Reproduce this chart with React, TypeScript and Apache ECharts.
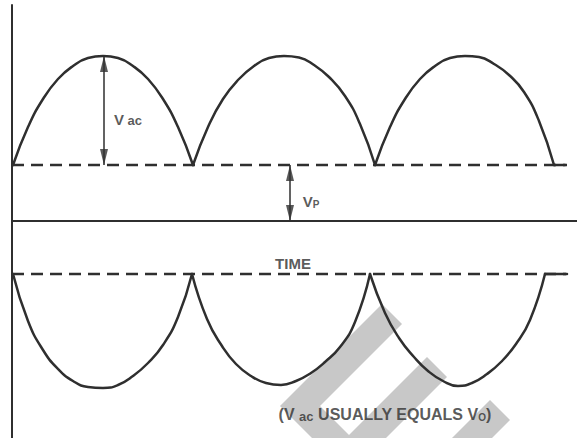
import React, { useEffect, useRef } from "react";
import * as echarts from "echarts";

const INK = "#2f2f2f";
const FONT = "'Liberation Sans', Arial, sans-serif";

// Axis ranges (time units / voltage units)
const X_MIN = 0;
const X_MAX = 56.5;
const Y_MIN = -21.7;
const Y_MAX = 21.6;

// Reference levels
const VP_LEVEL = 5.6; // upper dashed line
const NEG_LEVEL = -5.3; // lower dashed line

// Upper (positive) rectified half-waves
const upperArc1: [number, number][] = [
  [0.1, 5.6], [1.6, 9.4], [3.1, 12.2], [4.6, 14.2], [6.1, 15.5], [7.6, 16.3], [9.1, 16.5],
  [10.6, 16.3], [12.1, 15.5], [13.6, 14.2], [15.1, 12.2], [16.6, 9.4], [18.1, 5.6],
];
const upperArc2: [number, number][] = [
  [18.1, 5.6], [19.6, 9.4], [21.1, 12.2], [22.7, 14.2], [24.2, 15.5], [25.7, 16.3], [27.2, 16.5],
  [28.7, 16.35], [30.2, 15.6], [31.7, 14.4], [33.3, 12.5], [34.8, 9.7], [36.3, 5.6],
];
const upperArc3: [number, number][] = [
  [36.3, 5.6], [37.8, 9.4], [39.3, 12.2], [40.8, 14.2], [42.3, 15.5], [43.8, 16.3], [45.3, 16.5],
  [46.7, 16.4], [48.2, 15.7], [49.7, 14.6], [51.2, 12.9], [52.7, 10.0], [54.2, 5.6],
];
const upperTail: [number, number][] = [[54.2, 5.6], [55.3, 5.6]];

// Lower (negative) rectified half-waves
const lowerArc1: [number, number][] = [
  [0.1, -5.3], [1.6, -10.0], [3.1, -12.9], [4.6, -14.8], [6.1, -16.0], [7.6, -16.6], [9.1, -16.7],
  [10.6, -16.4], [12.1, -15.5], [13.6, -14.2], [15.1, -12.4], [16.6, -9.6], [18.0, -5.3],
];
const lowerArc2: [number, number][] = [
  [18.0, -5.3], [19.5, -9.8], [21.0, -12.5], [22.4, -14.3], [23.9, -15.5], [25.4, -16.2], [26.9, -16.4],
  [28.4, -16.0], [29.9, -15.2], [31.3, -14.1], [32.8, -12.6], [34.3, -10.1], [35.8, -5.3],
];
const lowerArc3: [number, number][] = [
  [35.8, -5.3], [37.3, -9.2], [38.7, -11.7], [40.2, -13.6], [41.6, -15.0], [43.1, -16.0], [44.6, -16.5],
  [46.0, -16.2], [47.5, -15.3], [48.9, -14.1], [50.4, -12.3], [51.8, -9.9], [53.3, -5.3],
];
const lowerTail: [number, number][] = [[53.3, -5.3], [55.5, -5.3]];

// Dashed reference lines
const upperDash: [number, number][] = [[0, VP_LEVEL], [55.5, VP_LEVEL]];
const lowerDash: [number, number][] = [[0, NEG_LEVEL], [55.4, NEG_LEVEL]];

// Dimension arrows
const vacArrow: [number, number][] = [[9.2, 16.5], [9.2, VP_LEVEL]];
const vpArrow: [number, number][] = [[27.8, VP_LEVEL], [27.8, 0]];

// Annotations
const annotationPos: [number, number][] = [[11.6, 10.3], [29.9, 2.1], [28.1, -4.2], [37.3, -19.2]];
const annotationText: string[] = [
  "{v|V} {s|ac}",
  "{v|V}{p|P}",
  "{t|TIME}",
  "{m|(V }{s|ac}{m| USUALLY EQUALS V}{p|O}{m|)}",
];

// Watermark bands (decorative, pixel polygons)
const watermark: number[][][] = [
  [[382, 304], [402, 324], [320, 406], [372, 458], [332, 458], [280, 406]],
  [[427, 357], [447, 377], [364, 460], [324, 460]],
  [[490, 400], [510, 420], [470, 460], [430, 460]],
];

const curve = (name: string, data: [number, number][], smooth: boolean | number = true) => ({
  type: "line",
  name,
  data,
  smooth,
  symbol: "none",
  silent: true,
  z: 3,
  lineStyle: { color: INK, width: 2.5, cap: "round", join: "round" },
});

const dashed = (name: string, data: [number, number][]) => ({
  type: "line",
  name,
  data,
  symbol: "none",
  silent: true,
  z: 3,
  lineStyle: { color: INK, width: 2.5, type: [12, 7] },
});

const shaft = (name: string, data: [number, number][]) => ({
  type: "line",
  name,
  data,
  symbol: "none",
  silent: true,
  z: 3,
  lineStyle: { color: INK, width: 1.5 },
});

const heads = (arrows: [number, number][][]) =>
  arrows.flatMap((a) => [
    { value: a[0], symbolRotate: 0, symbolOffset: [0, 8] },
    { value: a[1], symbolRotate: 180, symbolOffset: [0, -8] },
  ]);

const rich = {
  v: { fontSize: 15, fontWeight: "bold", color: INK, fontFamily: FONT, lineHeight: 18, verticalAlign: "bottom" },
  s: { fontSize: 13, fontWeight: "bold", color: INK, fontFamily: FONT, lineHeight: 16, verticalAlign: "bottom" },
  p: { fontSize: 10, fontWeight: "bold", color: INK, fontFamily: FONT, lineHeight: 8, verticalAlign: "bottom" },
  t: { fontSize: 15, fontWeight: "bold", color: INK, fontFamily: FONT, lineHeight: 18 },
  m: { fontSize: 16, fontWeight: "bold", color: INK, fontFamily: FONT, lineHeight: 19, verticalAlign: "bottom" },
};

export default function App() {
  const ref = useRef<HTMLDivElement>(null);
  useEffect(() => {
    if (!ref.current) return;
    const chart = echarts.init(ref.current, null, { renderer: "svg" });
    chart.setOption({
      animation: false,
      backgroundColor: "#ffffff",
      grid: { left: 12, right: 0, top: 5, bottom: 0, containLabel: false },
      xAxis: {
        type: "value",
        min: X_MIN,
        max: X_MAX,
        axisLine: { show: true, onZero: true, lineStyle: { color: INK, width: 2 } },
        axisTick: { show: false },
        axisLabel: { show: false },
        splitLine: { show: false },
      },
      yAxis: {
        type: "value",
        min: Y_MIN,
        max: Y_MAX,
        axisLine: { show: true, onZero: true, lineStyle: { color: INK, width: 2 } },
        axisTick: { show: false },
        axisLabel: { show: false },
        splitLine: { show: false },
      },
      graphic: watermark.map((pts) => ({
        type: "polygon",
        z: 0,
        silent: true,
        shape: { points: pts },
        style: { fill: "#c8c8c8" },
      })),
      series: [
        curve("upper1", upperArc1),
        curve("upper2", upperArc2),
        curve("upper3", upperArc3),
        curve("upperTail", upperTail, false),
        curve("lower1", lowerArc1),
        curve("lower2", lowerArc2),
        curve("lower3", lowerArc3),
        curve("lowerTail", lowerTail, false),
        dashed("upperDash", upperDash),
        dashed("lowerDash", lowerDash),
        shaft("vac", vacArrow),
        shaft("vp", vpArrow),
        {
          type: "scatter",
          name: "arrowheads",
          silent: true,
          z: 4,
          symbol: "triangle",
          symbolSize: [8, 16],
          itemStyle: { color: INK },
          data: heads([vacArrow, vpArrow]),
        },
        {
          type: "scatter",
          name: "labels",
          silent: true,
          z: 5,
          symbolSize: 0,
          data: annotationPos.map((p, i) => ({
            value: p,
            label: { show: true, position: "inside", formatter: annotationText[i], rich },
          })),
        },
      ],
    });
    return () => chart.dispose();
  }, []);
  return (
    <div
      ref={ref}
      style={{ position: "absolute", left: 0, top: 0, width: 577, height: 438, background: "#fff" }}
    />
  );
}
